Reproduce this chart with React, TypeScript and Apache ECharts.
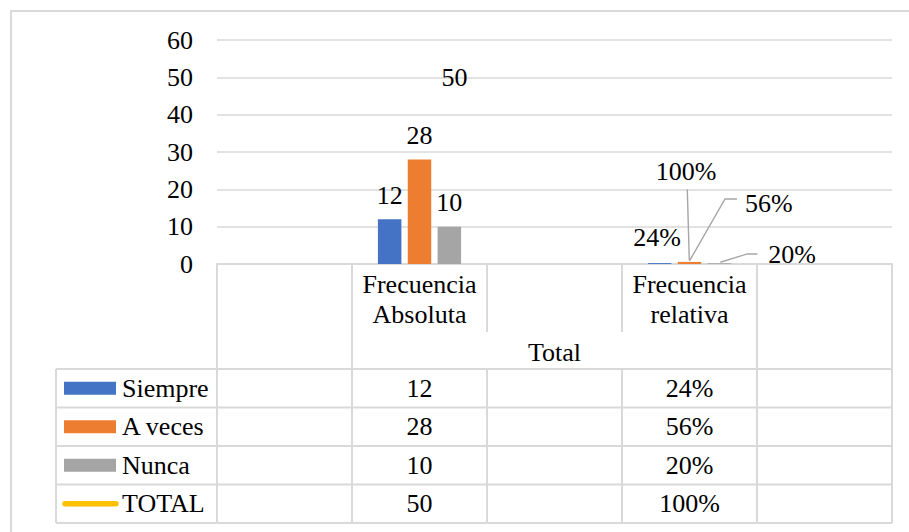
import React, { useEffect, useRef } from "react";
import * as echarts from "echarts";

// ---------- data ----------
const categories = ["", "Frecuencia\nAbsoluta", "", "Frecuencia\nrelativa", ""];
const groupLabel = "Total";
const seriesNames = ["Siempre", "A veces", "Nunca", "TOTAL"];
const absoluteValues = [12, 28, 10, 50];
const relativeValues = [0.24, 0.56, 0.2, 1.0];
const yMin = 0;
const yMax = 60;
const yInterval = 10;
const ABS_INDEX = 1;
const REL_INDEX = 3;

// ---------- styles / layout ----------
const colors = ["#4472C4", "#ED7D31", "#A5A5A5", "#FFC000"];
const FONT = "Liberation Serif";
const FS = 26;
const BORDER = "#D9D9D9";
const LEADER = "#A6A6A6";

const W = 909;
const H = 532;
const GRID_LEFT = 217;
const GRID_RIGHT_X = 892;
const GRID_TOP = 40;
const AXIS_Y = 264;
const TABLE_LEFT = 56;
const HEAD_MID_Y = 332;
const HEAD_BOTTOM = 369;
const ROW_H = 38.5;
const BAR_W = 23.5;
const BAR_GAP = 0.27;

// manual placement of the relative-group labels, relative to the mark anchor
// (bar top centre / point centre): [offsetX, offsetY, align, verticalAlign]
const relLabelPlace: [number, number, string, string][] = [
  [-2.5, -25.6, "center", "middle"],
  [55.5, -58.4, "left", "middle"],
  [49, -8.3, "left", "middle"],
  [-3.5, -88.8, "center", "middle"],
];
// leader lines (relative to the same anchor), null = none
const relLeaderPts: ([number, number][] | null)[] = [
  null,
  [
    [0, -1],
    [35.5, -62.9],
    [47.5, -62.9],
  ],
  [
    [1, -1],
    [28, -9.3],
    [38, -9.3],
  ],
  [
    [-0.2, 0],
    [-2.2, -71],
  ],
];

const pct = (v: number) => Math.round(v * 100) + "%";

function baseGraphic() {
  const catW = (GRID_RIGHT_X - GRID_LEFT) / categories.length;
  const colX = (i: number) => GRID_LEFT + catW * i;
  const nRows = seriesNames.length;

  const graphic: any[] = [];
  const line = (x1: number, y1: number, x2: number, y2: number, w = 2, c = BORDER) =>
    graphic.push({
      type: "line",
      silent: true,
      shape: { x1, y1, x2, y2 },
      style: { stroke: c, lineWidth: w },
    });
  const text = (t: string, x: number, y: number, align = "center") =>
    graphic.push({
      type: "text",
      silent: true,
      x,
      y,
      style: {
        text: t,
        fontFamily: FONT,
        fontSize: FS,
        fill: "#000",
        align,
        verticalAlign: "middle",
        textAlign: align,
        textVerticalAlign: "middle",
      },
    });

  // outer chart border
  graphic.push({
    type: "rect",
    silent: true,
    shape: { x: 11, y: 11, width: W + 20, height: H + 20 },
    style: { fill: "none", stroke: BORDER, lineWidth: 2 },
  });

  // header vertical lines
  for (let i = 0; i <= categories.length; i++) {
    const full = i === 0 || i === 1 || i === categories.length - 1 || i === categories.length;
    line(colX(i), AXIS_Y, colX(i), full ? HEAD_BOTTOM : HEAD_MID_Y);
  }
  text(groupLabel, (colX(ABS_INDEX) + colX(REL_INDEX + 1)) / 2, 352);

  const tableBottom = HEAD_BOTTOM + ROW_H * nRows;
  for (let r = 0; r <= nRows; r++) {
    const y = HEAD_BOTTOM + ROW_H * r;
    line(TABLE_LEFT, y, GRID_RIGHT_X, y);
  }
  line(TABLE_LEFT, HEAD_BOTTOM, TABLE_LEFT, tableBottom);
  for (let i = 0; i <= categories.length; i++) {
    line(colX(i), HEAD_BOTTOM, colX(i), tableBottom);
  }
  for (let r = 0; r < nRows; r++) {
    const cy = HEAD_BOTTOM + ROW_H * r + ROW_H / 2;
    if (r < nRows - 1) {
      graphic.push({
        type: "rect",
        silent: true,
        shape: { x: 64, y: cy - 6.5, width: 52, height: 13 },
        style: { fill: colors[r] },
      });
    } else {
      graphic.push({
        type: "line",
        silent: true,
        shape: { x1: 65, y1: cy, x2: 116, y2: cy },
        style: { stroke: colors[r], lineWidth: 5.5, lineCap: "round" },
      });
    }
    text(seriesNames[r], 122, cy, "left");
    text(String(absoluteValues[r]), colX(ABS_INDEX) + catW / 2, cy);
    text(pct(relativeValues[r]), colX(REL_INDEX) + catW / 2, cy);
  }
  return graphic;
}

function buildOption() {
  const labelBase = {
    show: true,
    color: "#000",
    fontFamily: FONT,
    fontSize: FS,
    formatter: (p: any) =>
      p.dataIndex === REL_INDEX ? pct(p.value) : String(p.value),
  };

  const makeData = (s: number, extraAbs: any = {}, extraRel: any = {}) =>
    categories.map((_, i) => {
      if (i === ABS_INDEX) return { value: absoluteValues[s], ...extraAbs };
      if (i === REL_INDEX) return { value: relativeValues[s], ...extraRel };
      return null;
    });

  const layoutFor = (s: number, isPoint: boolean) => (params: any) => {
    if (params.dataIndex !== REL_INDEX) return {};
    const r = params.rect;
    const ax = r.x + r.width / 2;
    const ay = isPoint ? r.y + r.height / 2 : r.y;
    const [ox, oy, align, va] = relLabelPlace[s];
    return { x: ax + ox, y: ay + oy, align, verticalAlign: va };
  };

  const series: any[] = [0, 1, 2].map((s) => ({
    name: seriesNames[s],
    type: "bar",
    barWidth: BAR_W,
    barGap: BAR_GAP * 100 + "%",
    itemStyle: { color: colors[s] },
    label: { ...labelBase, position: "top", distance: 11 },
    labelLayout: layoutFor(s, false),
    data: makeData(s),
  }));

  series.push({
    name: seriesNames[3],
    type: "line",
    symbol: "circle",
    symbolSize: 2,
    itemStyle: { color: "rgba(0,0,0,0)" },
    lineStyle: { color: colors[3], width: 5 },
    label: { ...labelBase, position: "right", distance: 21 },
    labelLayout: layoutFor(3, true),
    data: makeData(3),
  });

  return {
    animation: false,
    backgroundColor: "#fff",
    textStyle: { fontFamily: FONT },
    grid: {
      left: GRID_LEFT,
      right: W - GRID_RIGHT_X,
      top: GRID_TOP,
      bottom: H - AXIS_Y,
      containLabel: false,
    },
    legend: { show: false },
    xAxis: {
      type: "category",
      data: categories,
      axisLine: { show: true, lineStyle: { color: BORDER, width: 2 } },
      axisTick: { show: false },
      axisLabel: {
        interval: 0,
        color: "#000",
        fontFamily: FONT,
        fontSize: FS,
        lineHeight: 30,
        margin: 5,
      },
      splitLine: { show: false },
    },
    yAxis: {
      type: "value",
      min: yMin,
      max: yMax,
      interval: yInterval,
      axisLine: { show: false },
      axisTick: { show: false },
      axisLabel: {
        color: "#000",
        fontFamily: FONT,
        fontSize: FS,
        margin: 24,
      },
      splitLine: { lineStyle: { color: BORDER, width: 1.5 } },
    },
    series,
    graphic: baseGraphic(),
  };
}

function leaderGraphic(chart: echarts.ECharts) {
  const out: any[] = [];
  const barPitch = BAR_W * (1 + BAR_GAP);
  for (let s = 0; s < seriesNames.length; s++) {
    const pts = relLeaderPts[s];
    if (!pts) continue;
    const p = chart.convertToPixel({ gridIndex: 0 } as any, [
      REL_INDEX,
      relativeValues[s],
    ]) as number[];
    const ax = p[0] + (s < 3 ? (s - 1) * barPitch : 0);
    const ay = p[1];
    out.push({
      type: "polyline",
      silent: true,
      z: 10,
      shape: { points: pts.map(([dx, dy]) => [ax + dx, ay + dy]) },
      style: { stroke: LEADER, lineWidth: 1.4, fill: "none" },
    });
  }
  return out;
}

export default function App() {
  const ref = useRef<HTMLDivElement>(null);
  useEffect(() => {
    if (!ref.current) return;
    const chart = echarts.init(ref.current, undefined, { renderer: "svg" });
    chart.setOption(buildOption() as any);
    chart.setOption({ graphic: [...baseGraphic(), ...leaderGraphic(chart)] } as any);
    return () => chart.dispose();
  }, []);
  return (
    <div
      ref={ref}
      style={{
        position: "fixed",
        left: 0,
        top: 0,
        width: W,
        height: H,
        background: "#fff",
      }}
    />
  );
}
